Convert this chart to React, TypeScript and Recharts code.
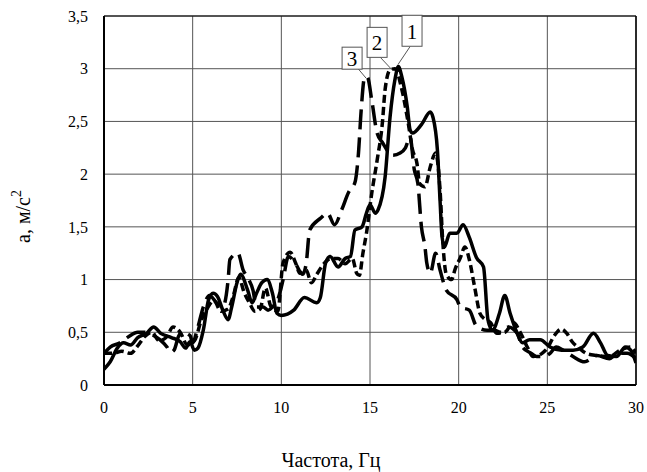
import {
  LineChart,
  Line,
  XAxis,
  YAxis,
  CartesianGrid,
  ReferenceLine,
  ReferenceDot,
  Label,
} from "recharts";

// [frequency Hz, acceleration m/s2]
const curve1: [number, number][] = [
  [0, 0.15], [0.35, 0.22], [0.75, 0.35], [1.1, 0.4], [1.5, 0.38], [1.9, 0.45], [2.4, 0.49],
  [2.8, 0.55], [3.2, 0.49], [3.8, 0.45], [4.3, 0.41], [4.6, 0.35], [4.85, 0.41], [5.1, 0.33],
  [5.3, 0.35], [5.6, 0.52], [5.9, 0.81], [6.15, 0.87], [6.4, 0.84], [6.7, 0.71], [7.0, 0.62],
  [7.2, 0.74], [7.5, 0.97], [7.7, 1.05], [8.1, 0.9], [8.35, 0.78], [8.6, 0.87], [8.9, 0.97],
  [9.2, 1.0], [9.5, 0.87], [9.75, 0.68], [10.0, 0.66], [10.7, 0.71], [11.3, 0.83], [12.0, 0.78],
  [12.2, 0.83], [12.5, 1.16], [12.75, 1.22], [13.2, 1.12], [13.6, 1.2], [13.9, 1.22], [14.15, 1.47],
  [14.55, 1.5], [14.8, 1.63], [15.0, 1.71], [15.3, 1.63], [15.45, 1.66], [15.85, 1.97], [16.13, 2.54],
  [16.4, 2.89], [16.6, 3.02], [16.8, 2.92], [17.1, 2.64], [17.26, 2.42], [17.4, 2.39], [17.9, 2.47],
  [18.4, 2.59], [18.55, 2.54], [18.8, 2.23], [18.95, 1.75], [19.06, 1.41], [19.2, 1.31], [19.5, 1.44],
  [19.9, 1.44], [20.25, 1.52], [20.6, 1.4], [21.0, 1.21], [21.4, 1.12], [21.65, 0.62], [21.9, 0.52],
  [22.3, 0.68], [22.6, 0.85], [22.9, 0.68], [23.3, 0.49], [23.6, 0.4], [24.0, 0.43], [24.6, 0.43],
  [25.15, 0.36], [25.8, 0.33], [26.45, 0.33], [27.0, 0.36], [27.6, 0.49], [28.0, 0.4], [28.4, 0.28],
  [28.9, 0.27], [29.4, 0.36], [29.7, 0.33], [30, 0.21],
];

const curve2: [number, number][] = [
  [0, 0.3], [0.5, 0.3], [1.0, 0.32], [1.5, 0.3], [1.9, 0.37], [2.3, 0.46], [2.7, 0.5], [3.1, 0.42],
  [3.5, 0.45], [3.9, 0.55], [4.3, 0.5], [4.7, 0.38], [5.1, 0.42], [5.5, 0.62], [5.8, 0.72], [6.2, 0.8],
  [6.6, 0.7], [7.0, 0.72], [7.3, 0.85], [7.6, 1.02], [7.9, 0.88], [8.2, 0.78], [8.5, 0.7], [8.8, 0.72],
  [9.1, 0.92], [9.4, 0.75], [9.8, 0.7], [10.1, 1.16], [10.5, 1.26], [10.8, 1.16], [11.05, 1.06],
  [11.4, 1.09], [11.7, 0.97], [12.0, 1.05], [12.4, 1.15], [12.8, 1.2], [13.2, 1.2], [13.6, 1.15],
  [14.0, 1.2], [14.25, 1.06], [14.4, 1.04], [14.6, 1.25], [14.8, 1.44], [15.1, 1.82], [15.4, 2.13],
  [15.7, 2.49], [15.85, 2.8], [16.13, 2.99], [16.4, 3.0], [16.8, 2.8], [17.15, 2.49], [17.4, 2.23],
  [17.65, 2.1], [17.8, 1.91], [18.1, 1.88], [18.4, 2.07], [18.7, 2.2], [18.95, 1.85], [19.1, 1.37],
  [19.3, 1.05], [19.6, 1.0], [19.8, 1.1], [20.1, 1.21], [20.35, 1.31], [20.6, 1.19], [20.9, 0.93],
  [21.2, 0.68], [21.5, 0.62], [21.8, 0.59], [22.15, 0.49], [22.6, 0.5], [23.1, 0.59], [23.5, 0.49],
  [23.9, 0.35], [24.2, 0.27], [24.7, 0.3], [25.0, 0.35], [25.4, 0.47], [25.8, 0.53], [26.1, 0.49],
  [26.4, 0.41], [26.8, 0.35], [27.2, 0.3], [27.8, 0.28], [28.5, 0.27], [29.1, 0.33], [29.7, 0.36],
  [30, 0.3],
];

const curve3: [number, number][] = [
  [0, 0.3], [0.35, 0.36], [0.9, 0.4], [1.4, 0.46], [1.9, 0.5], [2.4, 0.5], [2.8, 0.47], [3.15, 0.43],
  [3.55, 0.36], [3.75, 0.31], [3.95, 0.33], [4.2, 0.46], [4.4, 0.5], [4.85, 0.47], [5.0, 0.4],
  [5.25, 0.52], [5.6, 0.74], [5.95, 0.85], [6.35, 0.78], [6.7, 0.74], [7.0, 1.0], [7.1, 1.19],
  [7.55, 1.25], [7.85, 1.09], [8.1, 1.02], [8.4, 0.9], [8.6, 0.74], [8.97, 0.74], [9.25, 0.71],
  [9.5, 0.74], [9.8, 0.81], [10.1, 1.0], [10.4, 1.22], [10.8, 1.15], [11.2, 1.05], [11.4, 1.15],
  [11.6, 1.47], [12.2, 1.58], [12.6, 1.63], [13.0, 1.52], [13.4, 1.66], [13.8, 1.83], [14.15, 1.92],
  [14.35, 2.2], [14.5, 2.6], [14.7, 2.92], [14.85, 2.92], [15.1, 2.7], [15.4, 2.39], [15.7, 2.3],
  [16.1, 2.2], [16.3, 2.18], [16.7, 2.2], [17.0, 2.25], [17.26, 2.35], [17.5, 2.04], [17.7, 1.91],
  [17.9, 1.5], [18.1, 1.31], [18.2, 1.16], [18.4, 1.06], [18.7, 1.25], [18.95, 1.09], [19.3, 0.9],
  [19.9, 0.81], [20.1, 0.74], [20.6, 0.71], [21.0, 0.56], [21.6, 0.52], [22.0, 0.52], [22.4, 0.5],
  [22.8, 0.55], [23.3, 0.49], [23.6, 0.36], [24.1, 0.3], [24.4, 0.27], [24.8, 0.27], [25.15, 0.3],
  [25.5, 0.36], [25.9, 0.33], [26.45, 0.27], [27.1, 0.22], [27.8, 0.28], [28.5, 0.25], [29.0, 0.3],
  [29.5, 0.3], [30, 0.25],
];

const xTicks = [0, 5, 10, 15, 20, 25, 30];
const yTicks = [0, 0.5, 1, 1.5, 2, 2.5, 3, 3.5];

// curve number labels: box centre, box bottom and peak the callout points to
const tagNames = ["1", "2", "3"];
const tagBox: [number, number][] = [[17.37, 3.36], [15.4, 3.25], [13.99, 3.1]];
const tagBoxBottom: [number, number][] = [[17.26, 3.21], [15.57, 3.11], [14.33, 3.0]];
const tagPeak: [number, number][] = [[16.58, 3.04], [16.24, 2.99], [14.78, 2.91]];
const tagHeight = [31, 30, 22];

const toPoints = (c: [number, number][]) => c.map(([f, a]) => ({ f, a }));

const FONT = "Liberation Serif";

function YTitle(props: any) {
  const vb = props.viewBox || { x: 0, y: 0, width: 104, height: 369 };
  const cx = vb.x + 23;
  const cy = vb.y + vb.height / 2 + 16;
  return (
    <text
      transform={`translate(${cx},${cy}) rotate(-90)`}
      textAnchor="middle"
      dominantBaseline="central"
      style={{ fontFamily: FONT, fontSize: 20 }}
      fill="#000"
    >
      a, м/с<tspan dy={-7} style={{ fontSize: 14 }}>2</tspan>
    </text>
  );
}

function tagShape(i: number) {
  return (p: any) => {
    const h = tagHeight[i];
    return (
      <g>
        <rect
          x={p.cx - 10}
          y={p.cy - h / 2}
          width={20}
          height={h}
          fill="#fff"
          stroke="#555"
          strokeWidth={1}
        />
        <text
          x={p.cx}
          y={p.cy + 1}
          textAnchor="middle"
          dominantBaseline="central"
          style={{ fontFamily: FONT, fontSize: 21 }}
          fill="#000"
        >
          {tagNames[i]}
        </text>
      </g>
    );
  };
}

export default function App() {
  return (
    <div
      style={{
        position: "absolute",
        left: 0,
        top: 0,
        width: 647,
        height: 472,
        background: "#fff",
        fontFamily: FONT,
      }}
    >
      <LineChart
        width={647}
        height={472}
        margin={{ top: 16, right: 11, left: 0, bottom: 0 }}
        style={{ fontFamily: FONT }}
      >
        <CartesianGrid stroke="#555" strokeWidth={1} />
        <XAxis
          type="number"
          dataKey="f"
          domain={[0, 30]}
          ticks={xTicks}
          height={87}
          tickSize={0}
          tickMargin={17}
          axisLine={{ stroke: "#000", strokeWidth: 2 }}
          tick={{ fill: "#000", fontSize: 16, style: { fontFamily: FONT } }}
          allowDataOverflow
        >
          <Label
            value="Частота, Гц"
            position="insideBottom"
            offset={5}
            dx={-39}
            style={{ fill: "#000", fontSize: 20, fontFamily: FONT }}
          />
        </XAxis>
        <YAxis
          type="number"
          domain={[0, 3.5]}
          ticks={yTicks}
          width={104}
          tickSize={0}
          tickMargin={16}
          axisLine={{ stroke: "#000", strokeWidth: 2 }}
          tick={{ fill: "#000", fontSize: 16, style: { fontFamily: FONT } }}
          tickFormatter={(v: number) => String(v).replace(".", ",")}
          allowDataOverflow
        >
          <Label content={<YTitle />} />
        </YAxis>
        <ReferenceLine y={3.5} stroke="#000" strokeWidth={1} />
        <ReferenceLine x={30} stroke="#000" strokeWidth={1.5} />

        <Line
          data={toPoints(curve3)}
          dataKey="a"
          type="monotone"
          stroke="#000"
          strokeWidth={3.5}
          strokeDasharray="20 8"
          dot={false}
          isAnimationActive={false}
        />
        <Line
          data={toPoints(curve2)}
          dataKey="a"
          type="monotone"
          stroke="#000"
          strokeWidth={3.5}
          strokeDasharray="8 4"
          dot={false}
          isAnimationActive={false}
        />
        <Line
          data={toPoints(curve1)}
          dataKey="a"
          type="monotone"
          stroke="#000"
          strokeWidth={3.5}
          dot={false}
          isAnimationActive={false}
        />

        {tagNames.map((n, i) => (
          <ReferenceLine
            key={`l${n}`}
            segment={[
              { x: tagBoxBottom[i][0], y: tagBoxBottom[i][1] },
              { x: tagPeak[i][0], y: tagPeak[i][1] },
            ]}
            stroke="#555"
            strokeWidth={1}
          />
        ))}
        {tagNames.map((n, i) => (
          <ReferenceDot
            key={`d${n}`}
            x={tagBox[i][0]}
            y={tagBox[i][1]}
            r={10}
            shape={tagShape(i)}
          />
        ))}
      </LineChart>
    </div>
  );
}
